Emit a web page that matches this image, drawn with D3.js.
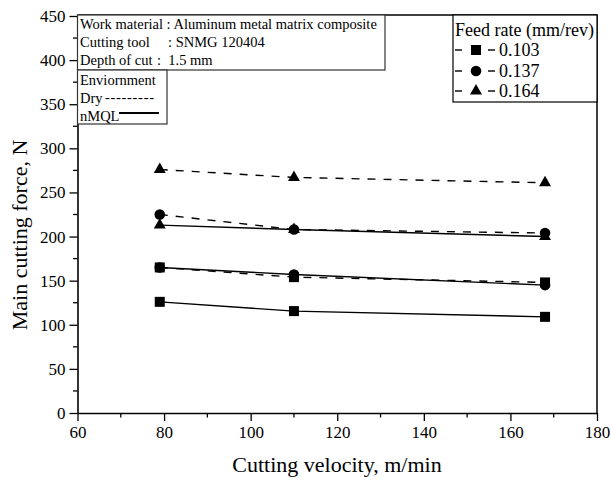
<!DOCTYPE html>
<html>
<head>
<meta charset="utf-8">
<script src="https://cdn.jsdelivr.net/npm/d3@7"></script>
<style>
  html, body { margin: 0; padding: 0; background: #fff; }
  svg { display: block; }
  svg text { font-family: "Liberation Serif", "Times New Roman", serif; fill: #000; }
</style>
</head>
<body>
<svg id="chart" width="611" height="480"></svg>
<script>
// Cutting velocity (m/min) at which the force was measured
const velocity = [79, 110, 168];
const feedRates = ["0.103", "0.137", "0.164"];
const markerShapes = ["square", "circle", "triangle"];

// Main cutting force (N) — dry machining
const dry103 = [165, 154, 148];
const dry137 = [225, 208, 204];
const dry164 = [276, 267, 261];

// Main cutting force (N) — nMQL machining
const nmql103 = [126, 115.5, 109];
const nmql137 = [165, 157, 145];
const nmql164 = [213, 208, 200];

const xTicks = [60, 80, 100, 120, 140, 160, 180];
const yTicks = [0, 50, 100, 150, 200, 250, 300, 350, 400, 450];

const infoLines = [
  ["Work material", ": Aluminum metal matrix composite"],
  ["Cutting tool", ": SNMG 120404"],
  ["Depth of cut", ":  1.5 mm"]
];

const svg = d3.select("#chart");
const pLeft = 77.5, pRight = 597, pTop = 16, pBottom = 413;

const x = d3.scaleLinear().domain([60, 180]).range([pLeft, pRight]);
const y = d3.scaleLinear().domain([0, 450]).range([pBottom, pTop]);

// frame (top and right sides)
svg.append("path")
  .attr("d", `M${pLeft},${pTop - 1}H${pRight}V${pBottom}`)
  .attr("fill", "none").attr("stroke", "#000").attr("stroke-width", 1.5);

// minor ticks
const xMinor = d3.range(70, 180, 20);
const yMinor = d3.range(25, 450, 50);
svg.append("g").selectAll("line").data(xMinor).join("line")
  .attr("x1", d => x(d)).attr("x2", d => x(d))
  .attr("y1", pBottom).attr("y2", pBottom + 4.5)
  .attr("stroke", "#000").attr("stroke-width", 1.3);
svg.append("g").selectAll("line").data(yMinor).join("line")
  .attr("y1", d => y(d)).attr("y2", d => y(d))
  .attr("x1", pLeft).attr("x2", pLeft - 4.5)
  .attr("stroke", "#000").attr("stroke-width", 1.3);

// axes
const xAxis = svg.append("g").attr("transform", `translate(0,${pBottom})`)
  .call(d3.axisBottom(x).tickValues(xTicks).tickSize(8).tickPadding(5).tickSizeOuter(0));
const yAxis = svg.append("g").attr("transform", `translate(${pLeft},0)`)
  .call(d3.axisLeft(y).tickValues(yTicks).tickSize(8).tickPadding(4).tickSizeOuter(0));
[xAxis, yAxis].forEach(g => {
  g.attr("font-family", null).attr("font-size", null);
  g.select(".domain").attr("stroke-width", 1.6);
  g.selectAll(".tick line").attr("stroke-width", 1.3);
  g.selectAll(".tick text").style("font-size", "17px");
});

// axis titles
svg.append("text")
  .attr("x", 337).attr("y", 472)
  .attr("text-anchor", "middle").style("font-size", "22px")
  .text("Cutting velocity, m/min");
svg.append("text")
  .attr("transform", "translate(27,235) rotate(-90)")
  .attr("text-anchor", "middle").style("font-size", "22px")
  .text("Main cutting force, N");

// markers
function drawMarker(g, shape, cx, cy) {
  if (shape === "square") {
    g.append("rect").attr("x", cx - 5).attr("y", cy - 5)
      .attr("width", 10).attr("height", 10).attr("fill", "#000");
  } else if (shape === "circle") {
    g.append("circle").attr("cx", cx).attr("cy", cy).attr("r", 5.3).attr("fill", "#000");
  } else {
    g.append("path").attr("d", d3.symbol(d3.symbolTriangle, 62)())
      .attr("transform", `translate(${cx},${cy})`).attr("fill", "#000");
  }
}

const series = [
  { values: dry164, shape: "triangle", dashed: true },
  { values: dry137, shape: "circle", dashed: true },
  { values: dry103, shape: "square", dashed: true },
  { values: nmql164, shape: "triangle", dashed: false },
  { values: nmql137, shape: "circle", dashed: false },
  { values: nmql103, shape: "square", dashed: false }
];

const line = d3.line().x((d, i) => x(velocity[i])).y(d => y(d));
const plot = svg.append("g");
series.forEach(s => {
  plot.append("path").datum(s.values)
    .attr("d", line).attr("fill", "none").attr("stroke", "#000")
    .attr("stroke-width", 1.4)
    .attr("stroke-dasharray", s.dashed ? "8,8" : null);
});
series.forEach(s => {
  s.values.forEach((v, i) => drawMarker(plot, s.shape, x(velocity[i]), y(v)));
});

// process information box
const info = svg.append("g");
info.append("rect").attr("x", pLeft).attr("y", pTop - 1)
  .attr("width", 385 - pLeft).attr("height", 70 - pTop + 1)
  .attr("fill", "#fff").attr("stroke", "#333").attr("stroke-width", 1.2);
const infoBase = [29, 47, 65];
const valueX = [null, 168, 157];
infoLines.forEach((ln, i) => {
  if (i === 0) {
    info.append("text").attr("x", 80).attr("y", infoBase[i]).style("font-size", "14.5px")
      .text(ln[0] + " " + ln[1]);
  } else {
    info.append("text").attr("x", 80).attr("y", infoBase[i]).style("font-size", "14.5px").text(ln[0]);
    info.append("text").attr("x", valueX[i]).attr("y", infoBase[i]).style("font-size", "14.5px")
      .style("white-space", "pre").text(ln[1]);
  }
});

// environment box
const env = svg.append("g");
env.append("rect").attr("x", pLeft).attr("y", 70)
  .attr("width", 167 - pLeft).attr("height", 54)
  .attr("fill", "#fff").attr("stroke", "#333").attr("stroke-width", 1.2);
env.append("text").attr("x", 80).attr("y", 85).style("font-size", "14.5px").text("Enviornment");
env.append("text").attr("x", 80).attr("y", 103).style("font-size", "14.5px").text("Dry");
env.append("text").attr("x", 105).attr("y", 102).style("font-size", "14.5px")
  .attr("textLength", 49).text("---------");
env.append("text").attr("x", 80).attr("y", 121).style("font-size", "14.5px").text("nMQL");
env.append("line").attr("x1", 119).attr("x2", 159).attr("y1", 113).attr("y2", 113)
  .attr("stroke", "#000").attr("stroke-width", 2);

// feed rate legend
const leg = svg.append("g");
leg.append("rect").attr("x", 453).attr("y", pTop - 1)
  .attr("width", pRight - 453).attr("height", 102 - pTop + 1)
  .attr("fill", "#fff").attr("stroke", "#000").attr("stroke-width", 1.2);
leg.append("text").attr("x", 455).attr("y", 36).style("font-size", "18px").text("Feed rate (mm/rev)");
const rowY = [50, 71, 91];
feedRates.forEach((fr, i) => {
  const cy = rowY[i];
  leg.append("line").attr("x1", 455).attr("x2", 462).attr("y1", cy).attr("y2", cy)
    .attr("stroke", "#000").attr("stroke-width", 1.4);
  leg.append("line").attr("x1", 488).attr("x2", 495).attr("y1", cy).attr("y2", cy)
    .attr("stroke", "#000").attr("stroke-width", 1.4);
  drawMarker(leg, markerShapes[i], 476, cy);
  leg.append("text").attr("x", 499).attr("y", cy + 6).style("font-size", "18px").text(fr);
});
</script>
</body>
</html>
